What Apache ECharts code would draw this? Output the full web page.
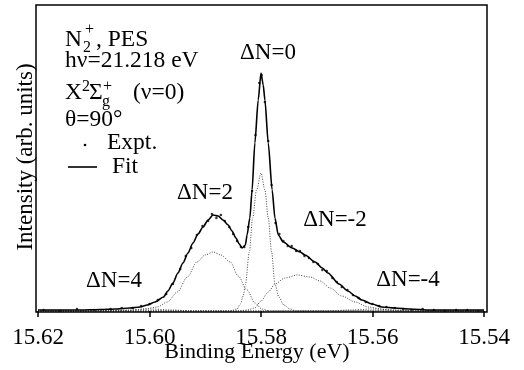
<!DOCTYPE html>
<html>
<head>
<meta charset="utf-8">
<script src="https://cdn.jsdelivr.net/npm/echarts/dist/echarts.min.js"></script>
<style>
  html, body { margin: 0; padding: 0; background: #fff; }
  #chart { width: 524px; height: 370px; }
</style>
</head>
<body>
<div id="chart"></div>
<script>
  // binding energy (eV) / intensity, arb. units
  var fitE = [15.620, 15.616, 15.6124, 15.6088, 15.6061, 15.6035, 15.6017, 15.6004, 15.5990, 15.5975,
    15.5967, 15.5958, 15.5949, 15.5940, 15.5931, 15.5922, 15.5913, 15.5904, 15.5895, 15.5886,
    15.5877, 15.5868, 15.5859, 15.5852, 15.5845, 15.5839, 15.5834, 15.5828, 15.5825, 15.5820,
    15.5816, 15.5811, 15.5805, 15.5800, 15.5796, 15.5793, 15.5787, 15.5780, 15.5775, 15.5769,
    15.5760, 15.5744, 15.5730, 15.5721, 15.5703, 15.5690, 15.5680, 15.5660, 15.5644, 15.5631,
    15.5619, 15.5601, 15.5583, 15.5560, 15.5533, 15.5497, 15.540]
  var fitI = [1, 1, 1, 1.5, 2, 3, 4, 6, 9, 14,
    20, 28, 38, 48, 58, 68, 77, 84, 91, 96,
    95, 91, 86, 80, 73, 67, 63, 66, 76, 93,
    121, 168, 211, 238, 226, 211, 168, 121, 93, 76,
    69, 63, 59, 56, 49, 43, 38, 27, 20, 15,
    11, 7, 4, 3, 2, 1, 1]

  var exptE = [15.619, 15.616, 15.613, 15.610, 15.607, 15.605, 15.603, 15.6015, 15.600, 15.5985,
    15.597, 15.5958, 15.5945, 15.5935, 15.5925, 15.5915, 15.5905, 15.5895, 15.5888, 15.5880,
    15.5872, 15.5865, 15.5857, 15.5850, 15.5843, 15.5836, 15.5830, 15.5823, 15.5816, 15.5810,
    15.5803, 15.5799, 15.5793, 15.5787, 15.5781, 15.5774, 15.5767, 15.5760, 15.5752, 15.5745,
    15.5737, 15.5730, 15.5722, 15.5714, 15.5706, 15.5698, 15.5690, 15.5682, 15.5672, 15.5664,
    15.5655, 15.5645, 15.5635, 15.5625, 15.5612, 15.5600, 15.5588, 15.5575, 15.5560, 15.5545,
    15.553, 15.551, 15.549, 15.547, 15.545, 15.543, 15.541]
  var exptI = [1, 0, 2, 1, 2, 3, 3, 5, 7, 11,
    17, 27, 42, 55, 63, 76, 85, 90, 97, 93,
    96, 90, 84, 77, 70, 64, 64, 84, 120, 176,
    228, 236, 209, 170, 126, 88, 77, 70, 65, 65,
    60, 60, 55, 53, 49, 47, 41, 40, 33, 29,
    24, 21, 16, 13, 9, 7, 5, 4, 3, 2,
    1, 2, 1, 0, 1, 1, 0]

  // fitted components
  var dn4E = [15.620, 15.608, 15.604, 15.600, 15.596, 15.592, 15.540]
  var dn4I = [0, 0, 1, 2, 1, 0, 0]

  var dn2E = [15.620, 15.604, 15.6008, 15.5986, 15.5968, 15.5950, 15.5932, 15.5915, 15.5900, 15.5886,
    15.5872, 15.5855, 15.5841, 15.5825, 15.5811, 15.5798, 15.5784, 15.540]
  var dn2I = [0, 0.5, 2, 4, 9, 19, 34, 49, 56, 59,
    56, 49, 35, 21, 8, 2, 0, 0]

  var dn0E = [15.620, 15.5855, 15.5843, 15.5837, 15.5832, 15.5828, 15.5821, 15.5815, 15.5808, 15.5800,
    15.5793, 15.5787, 15.5781, 15.5775, 15.5768, 15.5759, 15.5748, 15.5737, 15.540]
  var dn0I = [0, 0, 2, 7, 15, 26, 59, 93, 121, 138,
    121, 93, 59, 27, 14, 6, 2, 0, 0]

  var dnm2E = [15.620, 15.5840, 15.5825, 15.5811, 15.5800, 15.5787, 15.5775, 15.5757, 15.5735, 15.5712,
    15.5694, 15.5676, 15.5655, 15.5631, 15.5608, 15.5583, 15.5560, 15.5533, 15.540]
  var dnm2I = [0, 0, 1, 3, 10, 19, 27, 33, 36, 34,
    30, 23, 15, 9, 4, 2, 0.5, 0, 0]

  var dnm4E = [15.620, 15.568, 15.564, 15.560, 15.556, 15.552, 15.540]
  var dnm4I = [0, 0, 1, 2, 1, 0, 0]

  var serif = '"Liberation Serif", "Times New Roman", serif'

  function pairs(xs, ys) {
    return xs.map(function (x, i) { return [x, ys[i]] })
  }

  function txt(x, y, s, size, align) {
    return {
      type: 'text', x: x, y: y, z: 20,
      style: {
        text: s, fill: '#000', font: size + 'px ' + serif,
        align: align || 'left', verticalAlign: 'middle'
      }
    }
  }

  function component(name, xs, ys) {
    return {
      name: name, type: 'line', data: pairs(xs, ys),
      smooth: 0.3, smoothMonotone: 'x', showSymbol: false, silent: true,
      lineStyle: { color: '#444', width: 1, type: [1, 1.5] }
    }
  }

  var chart = echarts.init(document.getElementById('chart'))
  chart.setOption({
    animation: false,
    backgroundColor: '#fff',
    grid: { left: 38, right: 40, top: 5, bottom: 58 },
    xAxis: {
      type: 'value', min: 15.54, max: 15.62, interval: 0.02, inverse: true,
      axisLine: { show: false },
      axisTick: { show: true, length: 6, lineStyle: { color: '#000', width: 1.5 } },
      axisLabel: {
        color: '#000', fontSize: 23, fontFamily: serif, margin: 14,
        formatter: function (v) { return v.toFixed(2) }
      },
      splitLine: { show: false }
    },
    yAxis: { type: 'value', min: -1, max: 306, show: false },
    series: [
      component('dN4', dn4E, dn4I),
      component('dN2', dn2E, dn2I),
      component('dN0', dn0E, dn0I),
      component('dN-2', dnm2E, dnm2I),
      component('dN-4', dnm4E, dnm4I),
      {
        name: 'Fit', type: 'line', data: pairs(fitE, fitI),
        smooth: 0.25, smoothMonotone: 'x', showSymbol: false,
        lineStyle: { color: '#000', width: 1.6 }
      },
      {
        name: 'Expt.', type: 'scatter', data: pairs(exptE, exptI),
        symbolSize: 2.5, itemStyle: { color: '#000' }
      }
    ],
    graphic: [
      { type: 'rect', z: 20, shape: { x: 36, y: 5, width: 451, height: 307 },
        style: { fill: null, stroke: '#000', lineWidth: 1.5 } },
      // text block, top left
      txt(65, 40, 'N', 23.5),
      txt(83, 48, '2', 16),
      txt(85, 30, '+', 16),
      txt(96, 40, ', PES', 23.5),
      txt(65, 61, 'h\u03bd=21.218 eV', 23.5),
      txt(65, 93, 'X', 23.5),
      txt(82, 87, '2', 16),
      txt(89, 93, '\u03a3', 23.5),
      txt(102, 102, 'g', 16),
      txt(103, 87, '+', 16),
      txt(133, 93, '(\u03bd=0)', 23.5),
      txt(65, 120, '\u03b8=90\u00b0', 23.5),
      { type: 'circle', z: 20, shape: { cx: 85, cy: 145, r: 1.3 }, style: { fill: '#000' } },
      txt(107, 143, 'Expt.', 23.5),
      { type: 'line', z: 20, shape: { x1: 68, y1: 167, x2: 97, y2: 167 },
        style: { stroke: '#000', lineWidth: 1.6 } },
      txt(112, 167, 'Fit', 23.5),
      // peak labels
      txt(268, 53, '\u0394N=0', 23, 'center'),
      txt(205, 193, '\u0394N=2', 23, 'center'),
      txt(114, 281, '\u0394N=4', 23, 'center'),
      txt(335, 220, '\u0394N=-2', 23, 'center'),
      txt(408, 280, '\u0394N=-4', 23, 'center'),
      // axis titles
      txt(257, 352, 'Binding Energy (eV)', 22, 'center'),
      { type: 'text', x: 26, y: 157, rotation: Math.PI / 2, z: 20,
        style: { text: 'Intensity (arb. units)', fill: '#000', font: '23px ' + serif,
          align: 'center', verticalAlign: 'middle' } }
    ]
  })
</script>
</body>
</html>
